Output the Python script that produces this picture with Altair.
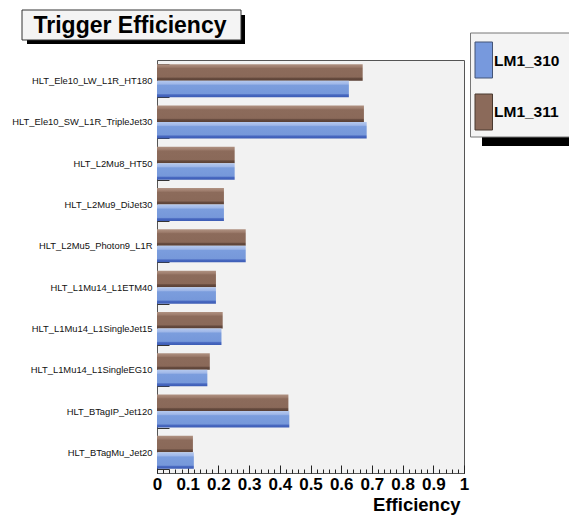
import altair as alt
import pandas as pd

categories = [
    "HLT_Ele10_LW_L1R_HT180",
    "HLT_Ele10_SW_L1R_TripleJet30",
    "HLT_L2Mu8_HT50",
    "HLT_L2Mu9_DiJet30",
    "HLT_L2Mu5_Photon9_L1R",
    "HLT_L1Mu14_L1ETM40",
    "HLT_L1Mu14_L1SingleJet15",
    "HLT_L1Mu14_L1SingleEG10",
    "HLT_BTagIP_Jet120",
    "HLT_BTagMu_Jet20",
]
series = ["LM1_310", "LM1_311"]
lm1_310 = [0.625, 0.683, 0.253, 0.218, 0.289, 0.192, 0.210, 0.164, 0.431, 0.120]
lm1_311 = [0.670, 0.674, 0.253, 0.218, 0.289, 0.192, 0.214, 0.172, 0.428, 0.117]
major_ticks = [0, 0.1, 0.2, 0.3, 0.4, 0.5, 0.6, 0.7, 0.8, 0.9, 1]
minor_ticks = [0, 0.02, 0.04, 0.06, 0.08, 0.1, 0.12, 0.14, 0.16, 0.18, 0.2,
               0.22, 0.24, 0.26, 0.28, 0.3, 0.32, 0.34, 0.36, 0.38, 0.4,
               0.42, 0.44, 0.46, 0.48, 0.5, 0.52, 0.54, 0.56, 0.58, 0.6,
               0.62, 0.64, 0.66, 0.68, 0.7, 0.72, 0.74, 0.76, 0.78, 0.8,
               0.82, 0.84, 0.86, 0.88, 0.9, 0.92, 0.94, 0.96, 0.98, 1]

rows = []
for c, a, b in zip(categories, lm1_310, lm1_311):
    rows.append({"trigger": c, "sample": series[0], "eff": a})
    rows.append({"trigger": c, "sample": series[1], "eff": b})
df = pd.DataFrame(rows)
one = pd.DataFrame({"k": [0]})

FONT = "Liberation Sans"
W, H = 307, 413

brown_grad = alt.LinearGradient(
    gradient="linear", x1=0, x2=0, y1=0, y2=1,
    stops=[
        alt.GradientStop(color="#b09282", offset=0),
        alt.GradientStop(color="#9d7c6c", offset=0.18),
        alt.GradientStop(color="#8c6b5b", offset=0.26),
        alt.GradientStop(color="#8a6959", offset=0.78),
        alt.GradientStop(color="#654a3e", offset=0.86),
        alt.GradientStop(color="#5a4035", offset=1),
    ],
)
blue_grad = alt.LinearGradient(
    gradient="linear", x1=0, x2=0, y1=0, y2=1,
    stops=[
        alt.GradientStop(color="#b5c9ee", offset=0),
        alt.GradientStop(color="#9fb7e8", offset=0.2),
        alt.GradientStop(color="#7b9ddd", offset=0.28),
        alt.GradientStop(color="#7698da", offset=0.78),
        alt.GradientStop(color="#4868c0", offset=0.86),
        alt.GradientStop(color="#3c5cb5", offset=1),
    ],
)

xscale = alt.Scale(domain=[0, 1], nice=False, zero=True)

major_axis = alt.Axis(
    values=major_ticks, format=".1~f", orient="bottom", offset=-8, tickSize=8,
    tickColor="#222", domain=False, grid=False, labelFont=FONT, labelFontSize=17,
    labelFontWeight="bold", labelColor="black", labelPadding=3,
    labelOverlap=False, labelFlush=False,
    title="Efficiency", titleFont=FONT, titleFontSize=18.5, titleFontWeight="bold",
    titleColor="black", titleX=303, titleY=45, titleAlign="right",
    titleAnchor="end", titleBaseline="alphabetic",
)
minor_axis = alt.Axis(
    values=minor_ticks, orient="bottom", offset=-4, tickSize=4, tickColor="#222",
    labels=False, domain=False, grid=False, title=None,
)
y_axis = alt.Axis(
    orient="left", offset=-12, tickSize=12, tickBand="extent", tickColor="#333",
    domain=False, grid=False, labelFont=FONT, labelFontSize=9.4,
    labelColor="#111", labelPadding=5, labelLimit=300, title=None,
)

y_enc = alt.Y("trigger:N", sort=categories,
              scale=alt.Scale(paddingInner=0.2, paddingOuter=0.1), axis=y_axis)
yoff = alt.YOffset("sample:N",
                   scale=alt.Scale(domain=["LM1_311", "LM1_310"],
                                   paddingInner=0, paddingOuter=0))

brown = alt.Chart(df).transform_filter(alt.datum.sample == "LM1_311").mark_bar(
    color=brown_grad).encode(
    x=alt.X("eff:Q", scale=xscale, axis=major_axis), y=y_enc, yOffset=yoff)
blue = alt.Chart(df).transform_filter(alt.datum.sample == "LM1_310").mark_bar(
    color=blue_grad).encode(
    x=alt.X("eff:Q", scale=xscale, axis=None), y=y_enc, yOffset=yoff)
minor = alt.Chart(df).mark_point(opacity=0).encode(
    x=alt.X("eff:Q", scale=xscale, axis=minor_axis))


def rect(x, x2, y, y2, fill, stroke=None):
    kw = {"fill": fill}
    if stroke:
        kw["stroke"] = stroke
        kw["strokeWidth"] = 1
    return alt.Chart(one).mark_rect(**kw).encode(
        x=alt.value(x), x2=alt.value(x2), y=alt.value(y), y2=alt.value(y2))


def label(txt, x, y, size, align):
    return alt.Chart(one).mark_text(
        text=txt, font=FONT, fontSize=size, fontWeight="bold", color="black",
        align=align, baseline="alphabetic").encode(x=alt.value(x), y=alt.value(y))


deco = [
    rect(-130, 88, -45, -16, "black"),
    rect(-135, 84, -50, -20, "#f4f4f4", "#333"),
    label("Trigger Efficiency", -27, -27, 23, "center"),
    rect(325, 425, -18, 86, "black"),
    rect(313.5, 414.5, -27, 77, "#f4f4f4", "#777"),
    rect(318, 335.5, -18, 18, "#7799dd", "#445577"),
    rect(318, 335.5, 34, 70, "#8b6a5a", "#4a3a30"),
    label("LM1_310", 337, 6, 15.5, "left"),
    label("LM1_311", 337, 56.5, 15.5, "left"),
]

chart = alt.layer(brown, blue, minor, *deco).resolve_axis(x="independent").properties(
    width=W, height=H,
    autosize=alt.AutoSizeParams(type="none"),
    padding={"left": 149, "top": 52, "right": 105, "bottom": 42},
).configure_view(fill="#f2f2f2", stroke="#555", strokeWidth=1)

chart.save("out.html", embed_options={"renderer": "svg", "actions": False})
